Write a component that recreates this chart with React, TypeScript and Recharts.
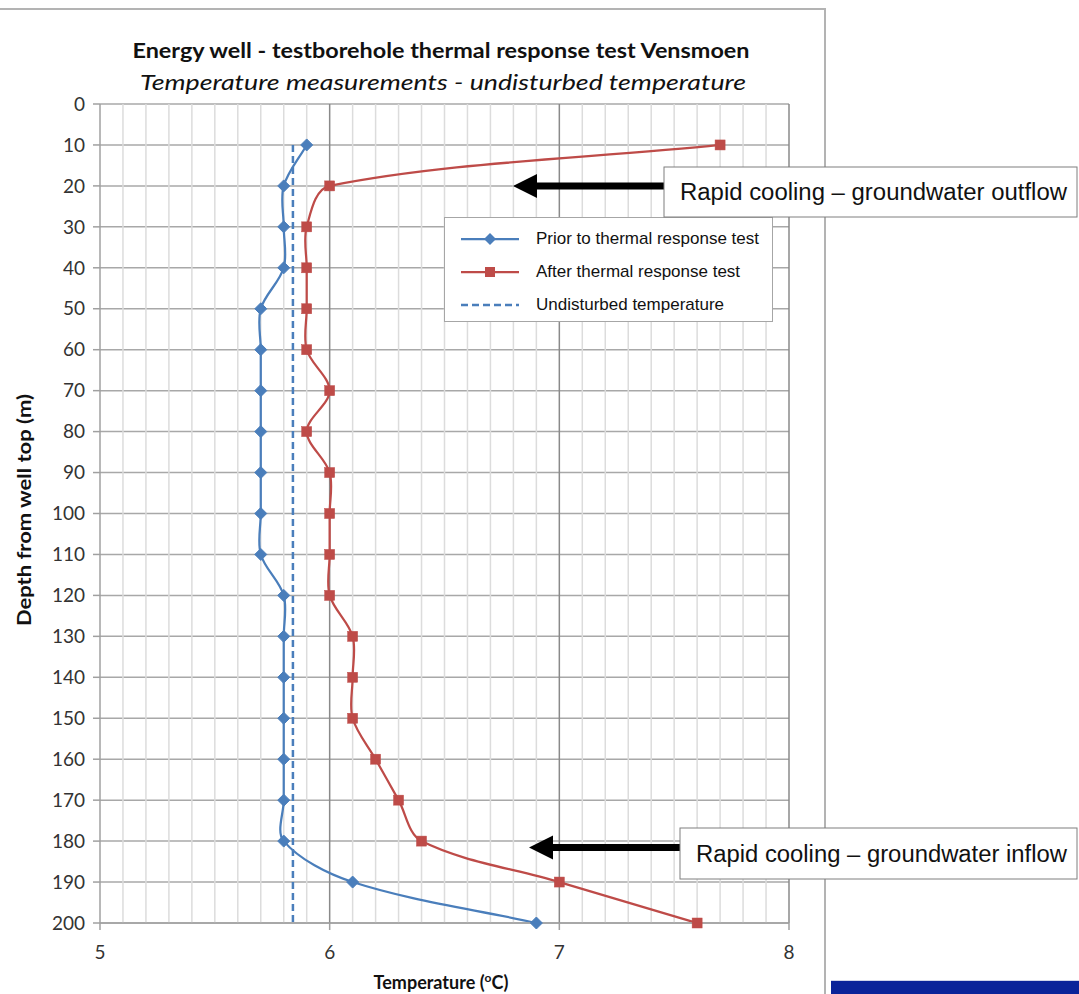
import React from 'react';
import { LineChart, Line, XAxis, YAxis, CartesianGrid, ReferenceLine } from 'recharts';

const DEPTHS = [10, 20, 30, 40, 50, 60, 70, 80, 90, 100, 110, 120, 130, 140, 150, 160, 170, 180, 190, 200];
const PRIOR = [5.9, 5.8, 5.8, 5.8, 5.7, 5.7, 5.7, 5.7, 5.7, 5.7, 5.7, 5.8, 5.8, 5.8, 5.8, 5.8, 5.8, 5.8, 6.1, 6.9];
const AFTER = [7.7, 6.0, 5.9, 5.9, 5.9, 5.9, 6.0, 5.9, 6.0, 6.0, 6.0, 6.0, 6.1, 6.1, 6.1, 6.2, 6.3, 6.4, 7.0, 7.6];
const UNDISTURBED = 5.84;

const DEPTH_TICKS = [0, 10, 20, 30, 40, 50, 60, 70, 80, 90, 100, 110, 120, 130, 140, 150, 160, 170, 180, 190, 200];
const TEMP_TICKS = [5, 6, 7, 8];
// minor gridlines every 0.1 degC
const MINOR_TEMPS = Array.from({ length: 31 }, (_, i) => Math.round((5 + i * 0.1) * 10) / 10).filter(
  (t) => !TEMP_TICKS.includes(t)
);

const BLUE = '#4a7ebb';
const RED = '#be4b48';
const CALIBRI = 'Lato, "Open Sans", sans-serif';
const ARIAL = '"Liberation Sans", Arial, sans-serif';

const rows = DEPTHS.map((depth, i) => ({
  depth,
  prior: PRIOR[i],
  after: AFTER[i],
  undisturbed: UNDISTURBED,
}));

// Excel style smoothed line: bezier with tangents weighted by segment length
const excelSpline = (context: any) => {
  let pts: number[][] = [];
  const dist = (a: number[], b: number[]) => Math.hypot(a[0] - b[0], a[1] - b[1]);
  return {
    areaStart() {},
    areaEnd() {},
    lineStart() {
      pts = [];
    },
    point(x: number, y: number) {
      pts.push([+x, +y]);
    },
    lineEnd() {
      const n = pts.length;
      if (!n) return;
      context.moveTo(pts[0][0], pts[0][1]);
      for (let i = 0; i < n - 1; i++) {
        const p0 = pts[i - 1] || pts[i];
        const p1 = pts[i];
        const p2 = pts[i + 1];
        const p3 = pts[i + 2] || p2;
        const d01 = dist(p0, p1);
        const d12 = dist(p1, p2);
        const d23 = dist(p2, p3);
        const f1 = d01 + d12 > 0 ? d12 / (3 * (d01 + d12)) : 0;
        const f2 = d12 + d23 > 0 ? d12 / (3 * (d12 + d23)) : 0;
        context.bezierCurveTo(
          p1[0] + (p2[0] - p0[0]) * f1,
          p1[1] + (p2[1] - p0[1]) * f1,
          p2[0] - (p3[0] - p1[0]) * f2,
          p2[1] - (p3[1] - p1[1]) * f2,
          p2[0],
          p2[1]
        );
      }
    },
  };
};

const Diamond = (props: any) => {
  const { cx, cy } = props;
  if (cx == null || cy == null) return null;
  const r = 6;
  return (
    <polygon
      key={props.key}
      points={`${cx},${cy - r} ${cx + r},${cy} ${cx},${cy + r} ${cx - r},${cy}`}
      fill={BLUE}
      stroke={BLUE}
      strokeWidth={1}
    />
  );
};

const Square = (props: any) => {
  const { cx, cy } = props;
  if (cx == null || cy == null) return null;
  const r = 5;
  return <rect key={props.key} x={cx - r} y={cy - r} width={r * 2} height={r * 2} fill={RED} stroke={RED} strokeWidth={0.5} />;
};

const legendItems = [
  { label: 'Prior to thermal response test', color: BLUE, marker: 'diamond' },
  { label: 'After thermal response test', color: RED, marker: 'square' },
  { label: 'Undisturbed temperature', color: BLUE, marker: 'dash' },
];

const LegendBox = () => (
  <div
    style={{
      position: 'absolute',
      left: 444,
      top: 217,
      width: 329,
      height: 105,
      background: '#fff',
      border: '1px solid #a6a6a6',
      boxSizing: 'border-box',
      fontFamily: ARIAL,
      fontSize: 17,
      color: '#111',
    }}
  >
    {legendItems.map((it, i) => (
      <div key={i} style={{ position: 'absolute', left: 16, top: 9 + i * 33, display: 'flex', alignItems: 'center', height: 24 }}>
        <svg width={60} height={14}>
          {it.marker === 'dash' ? (
            <line x1={0} y1={7} x2={58} y2={7} stroke={it.color} strokeWidth={2.5} strokeDasharray="7 4" />
          ) : (
            <line x1={0} y1={7} x2={58} y2={7} stroke={it.color} strokeWidth={2.25} />
          )}
          {it.marker === 'diamond' && <polygon points="29,1 35,7 29,13 23,7" fill={it.color} />}
          {it.marker === 'square' && <rect x={24} y={2} width={10} height={10} fill={it.color} />}
        </svg>
        <span style={{ marginLeft: 15, whiteSpace: 'nowrap' }}>{it.label}</span>
      </div>
    ))}
  </div>
);

const Callout = ({ x, y, w, h, tipX, text, textW }: { x: number; y: number; w: number; h: number; tipX: number; text: string; textW: number }) => {
  const cy = y + h / 2 - 6;
  return (
    <g>
      <polygon
        points={`${tipX},${cy} ${tipX + 24},${cy - 12} ${tipX + 24},${cy - 3.5} ${x},${cy - 3.5} ${x},${cy + 3.5} ${tipX + 24},${cy + 3.5} ${tipX + 24},${cy + 12}`}
        fill="#000"
      />
      <rect x={x} y={y} width={w} height={h} fill="#fff" stroke="#7f7f7f" strokeWidth={1} />
      <text x={x + 16} y={y + h / 2 + 8} fontFamily={ARIAL} fontSize={23} fill="#111" textLength={textW} lengthAdjust="spacingAndGlyphs">
        {text}
      </text>
    </g>
  );
};

export default function App() {
  return (
    <div style={{ position: 'absolute', left: 0, top: 0, width: 1079, height: 994, background: '#fff', overflow: 'hidden' }}>
      <div
        style={{
          position: 'absolute',
          left: -2,
          top: 8,
          width: 828,
          height: 1000,
          borderTop: '2px solid #b3b3b3',
          borderRight: '2px solid #b3b3b3',
          boxSizing: 'border-box',
        }}
      />
      <div style={{ position: 'absolute', left: 831, top: 980, width: 248, height: 14, background: '#0a2399', borderTop: '1px solid #cfd3e8' }} />
      <div style={{ position: 'absolute', left: 0, top: 0 }}>
        <LineChart width={1079} height={994} data={rows} layout="vertical" margin={{ top: 104, right: 290, bottom: 31, left: 0 }}>
          {MINOR_TEMPS.map((t) => (
            <ReferenceLine key={`m${t}`} x={t} stroke="#dcdcdc" strokeWidth={1.5} />
          ))}
          <CartesianGrid vertical={false} stroke="#a8a8a8" strokeWidth={1.5} />
          {TEMP_TICKS.slice(1).map((t) => (
            <ReferenceLine key={`M${t}`} x={t} stroke="#8a8a8a" strokeWidth={1.5} />
          ))}
          <XAxis
            type="number"
            domain={[5, 8]}
            ticks={TEMP_TICKS}
            allowDataOverflow
            height={40}
            stroke="#a0a0a0"
            strokeWidth={1.5}
            tickSize={7}
            tickMargin={16}
            tick={{ fontSize: 19, fill: '#333', fontFamily: CALIBRI }}
          />
          <YAxis
            type="number"
            dataKey="depth"
            domain={[0, 200]}
            ticks={DEPTH_TICKS}
            width={100}
            stroke="#a0a0a0"
            strokeWidth={1.5}
            tickSize={7}
            tickMargin={8}
            interval={0}
            tick={{ fontSize: 19, fill: '#333', fontFamily: CALIBRI }}
          />
          <Line
            dataKey="undisturbed"
            name="Undisturbed temperature"
            type="linear"
            stroke={BLUE}
            strokeWidth={2.5}
            strokeDasharray="7 4"
            dot={false}
            activeDot={false}
            isAnimationActive={false}
          />
          <Line
            dataKey="prior"
            name="Prior to thermal response test"
            type={excelSpline as any}
            stroke={BLUE}
            strokeWidth={2.25}
            dot={Diamond}
            activeDot={false}
            isAnimationActive={false}
          />
          <Line
            dataKey="after"
            name="After thermal response test"
            type={excelSpline as any}
            stroke={RED}
            strokeWidth={2.25}
            dot={Square}
            activeDot={false}
            isAnimationActive={false}
          />
        </LineChart>
      </div>
      <LegendBox />
      <svg width={1079} height={994} style={{ position: 'absolute', left: 0, top: 0, pointerEvents: 'none' }}>
        <text x={441} y={58} textAnchor="middle" fontFamily={CALIBRI} fontWeight="bold" fontSize={20} fill="#111" textLength={617} lengthAdjust="spacingAndGlyphs">
          Energy well - testborehole thermal response test Vensmoen
        </text>
        <text x={443} y={90} textAnchor="middle" fontFamily={CALIBRI} fontStyle="italic" fontSize={22} fill="#111" textLength={606} lengthAdjust="spacingAndGlyphs">
          Temperature measurements - undisturbed temperature
        </text>
        <text
          x={0}
          y={0}
          transform="translate(31 510) rotate(-90)"
          textAnchor="middle"
          fontFamily={CALIBRI}
          fontWeight="bold"
          fontSize={19}
          fill="#111"
          textLength={232}
          lengthAdjust="spacingAndGlyphs"
        >
          Depth from well top (m)
        </text>
        <text x={441} y={989} textAnchor="middle" fontFamily={CALIBRI} fontWeight="bold" fontSize={18} fill="#111">
          Temperature (<tspan fontSize={12} dy={-7}>o</tspan>
          <tspan dy={7}>C)</tspan>
        </text>
        <Callout x={664} y={167} w={413} h={50} tipX={513} text="Rapid cooling – groundwater outflow" textW={387} />
        <Callout x={680} y={828} w={397} h={51} tipX={529} text="Rapid cooling – groundwater inflow" textW={371} />
      </svg>
    </div>
  );
}
